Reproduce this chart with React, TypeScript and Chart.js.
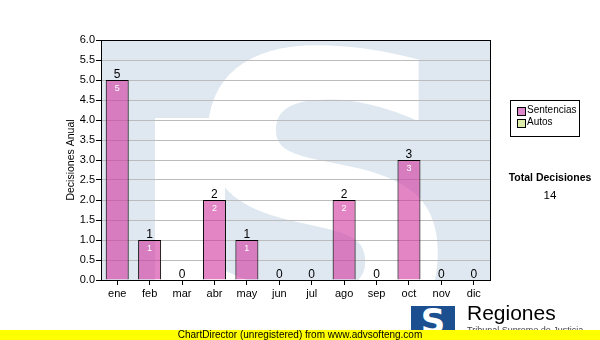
import React, { useEffect, useRef } from "react";
import { Chart, registerables } from "chart.js";

Chart.register(...registerables);

const months = ["ene", "feb", "mar", "abr", "may", "jun", "jul", "ago", "sep", "oct", "nov", "dic"];
const sentencias = [5, 1, 0, 2, 1, 0, 0, 2, 0, 3, 0, 0];
const legendLabels = ["Sentencias", "Autos"];
const yTitle = "Decisiones Anual";
const totalLabel = "Total Decisiones";
const totalValue = 14;

const FONT = "'Liberation Sans', Arial, sans-serif";

const decor = {
  id: "decor",
  beforeDraw(chart: any) {
    const { ctx, chartArea: a } = chart;
    ctx.save();
    ctx.beginPath();
    ctx.rect(a.left, a.top, a.right - a.left, a.bottom - a.top);
    ctx.clip();
    ctx.fillStyle = "#dfe8f1";
    ctx.fillRect(a.left, a.top, a.right - a.left, a.bottom - a.top);
    ctx.fillStyle = "#ffffff";
    ctx.fillRect(a.left + 54, a.top + 78, 70, a.bottom - a.top);
    ctx.font = "bold 400px 'DejaVu Sans', sans-serif";
    ctx.textAlign = "center";
    ctx.textBaseline = "alphabetic";
    ctx.fillText("S", a.left + 222, a.top + 302);
    ctx.restore();
    // y title
    ctx.save();
    ctx.translate(71, (a.top + a.bottom) / 2);
    ctx.rotate(-Math.PI / 2);
    ctx.font = "10.5px " + FONT;
    ctx.fillStyle = "#000";
    ctx.textAlign = "center";
    ctx.textBaseline = "middle";
    ctx.fillText(yTitle, 0, 0);
    ctx.restore();
  },
  afterDatasetsDraw(chart: any) {
    const { ctx, chartArea: a } = chart;
    const meta = chart.getDatasetMeta(0);
    ctx.save();
    ctx.textAlign = "center";
    meta.data.forEach((bar: any, i: number) => {
      const v = sentencias[i];
      ctx.fillStyle = "#000";
      ctx.font = "12px " + FONT;
      ctx.textBaseline = "alphabetic";
      ctx.fillText(String(v), bar.x, bar.y - 2);
      if (v > 0) {
        ctx.fillStyle = "#fff";
        ctx.font = "9px " + FONT;
        ctx.textBaseline = "top";
        ctx.fillText(String(v), bar.x, bar.y + 4);
      }
    });
    ctx.strokeStyle = "#000";
    ctx.lineWidth = 1;
    ctx.strokeRect(Math.round(a.left) + 0.5, Math.round(a.top) + 0.5, Math.round(a.right - a.left), Math.round(a.bottom - a.top));
    ctx.restore();
  },
};

export default function App() {
  const ref = useRef<HTMLCanvasElement>(null);
  useEffect(() => {
    const chart = new Chart(ref.current!, {
      type: "bar",
      data: {
        labels: months,
        datasets: [
          {
            label: legendLabels[0],
            data: sentencias,
            backgroundColor: "rgba(208,52,158,0.6)",
            borderColor: "#000",
            borderWidth: 1,
            barPercentage: 0.71,
            categoryPercentage: 1,
          },
        ],
      },
      options: {
        animation: false,
        responsive: false,
        layout: { padding: { top: 40, right: 110, left: 0, bottom: 0 } },
        plugins: { legend: { display: false }, tooltip: { enabled: false } },
        scales: {
          x: {
            grid: { drawOnChartArea: false, drawTicks: true, tickLength: 5, tickColor: "#000", offset: false },
            border: { color: "#000" },
            ticks: { color: "#000", font: { family: FONT, size: 11 }, padding: 2, maxRotation: 0 },
            afterFit: (s: any) => { s.height = 60; },
          },
          y: {
            min: 0,
            max: 6,
            grid: { color: "#bcbcbc", tickLength: 5, tickColor: "#000" },
            border: { color: "#000" },
            ticks: {
              stepSize: 0.5,
              color: "#000",
              font: { family: FONT, size: 11 },
              padding: 1,
              callback: (v: any) => Number(v).toFixed(1),
            },
            afterFit: (s: any) => { s.width = 101; },
          },
        },
      },
      plugins: [decor],
    } as any);
    return () => chart.destroy();
  }, []);

  const txt: React.CSSProperties = { position: "absolute", fontFamily: FONT, color: "#000" };
  return (
    <div style={{ position: "fixed", left: 0, top: 0, width: 600, height: 340, background: "#fff", overflow: "hidden" }}>
      <canvas ref={ref} width={600} height={340} style={{ position: "absolute", left: 0, top: 0 }} />
      <div style={{ position: "absolute", left: 510, top: 100, width: 70, height: 37, border: "1px solid #000", boxSizing: "border-box", fontFamily: FONT, fontSize: 10 }}>
        <div style={{ position: "absolute", left: 6, top: 6, width: 7, height: 7, background: "#dd88cc", border: "1px solid #000" }} />
        <div style={{ position: "absolute", left: 16, top: 3, lineHeight: "12px" }}>{legendLabels[0]}</div>
        <div style={{ position: "absolute", left: 6, top: 18, width: 7, height: 7, background: "#ddeeaa", border: "1px solid #000" }} />
        <div style={{ position: "absolute", left: 16, top: 15, lineHeight: "12px" }}>{legendLabels[1]}</div>
      </div>
      <div style={{ ...txt, left: 500, width: 100, top: 171, textAlign: "center", fontWeight: "bold", fontSize: 10.5 }}>{totalLabel}</div>
      <div style={{ ...txt, left: 500, width: 100, top: 189, textAlign: "center", fontSize: 11.5 }}>{totalValue}</div>
      <div style={{ position: "absolute", left: 411, top: 306, width: 44, height: 27, background: "#1b4f8f", overflow: "hidden" }}>
        <div style={{ position: "absolute", left: 0, top: 0, width: 44, textAlign: "center", color: "#fff", fontFamily: "'DejaVu Sans', sans-serif", fontWeight: "bold", fontSize: 34, lineHeight: "30px" }}>S</div>
      </div>
      <div style={{ ...txt, left: 467, top: 300, fontSize: 21, lineHeight: "26px" }}>Regiones</div>
      <div style={{ ...txt, left: 467, top: 325, fontSize: 9, color: "#444", lineHeight: "10px" }}>Tribunal Supremo de Justicia</div>
      <div style={{ position: "absolute", left: 0, top: 330, width: 600, height: 10, background: "#ffff00" }}>
        <div style={{ ...txt, left: 0, width: 600, top: -1, textAlign: "center", fontSize: 10, lineHeight: "11px" }}>ChartDirector (unregistered) from www.advsofteng.com</div>
      </div>
    </div>
  );
}
